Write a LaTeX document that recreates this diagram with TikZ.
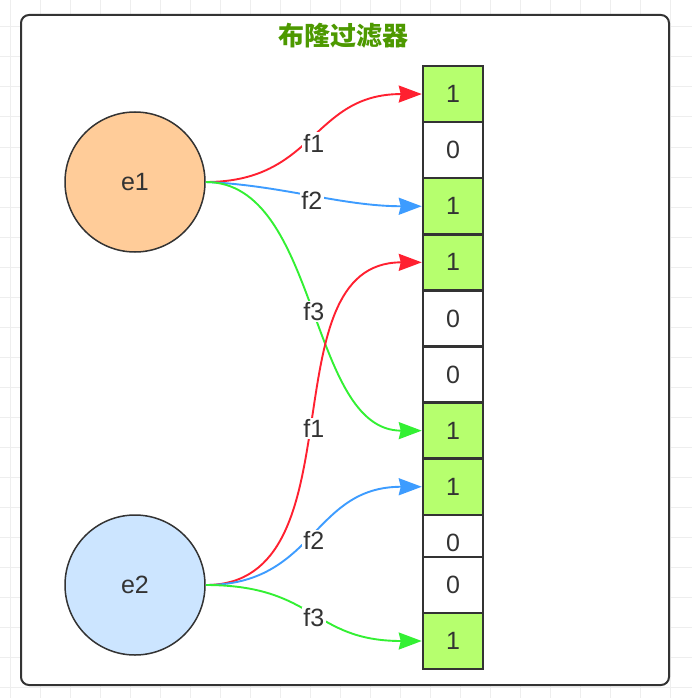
\documentclass[tikz,border=0pt]{standalone}
\usepackage{fontspec}
\setmainfont{Liberation Sans}
\newfontfamily\cjk{Noto Sans CJK SC}
\usetikzlibrary{arrows.meta}
\definecolor{ink}{HTML}{333333}
\definecolor{gridc}{HTML}{EEEEEE}
\definecolor{titlec}{HTML}{4D9900}
\definecolor{cellon}{HTML}{B6FF6E}
\definecolor{orangef}{HTML}{FFCC99}
\definecolor{bluef}{HTML}{CCE5FF}
\definecolor{ered}{HTML}{FF2030}
\definecolor{eblue}{HTML}{3D9CFF}
\definecolor{egreen}{HTML}{33F033}
\tikzset{
  gridline/.style={draw=gridc, line width=1pt},
  frame/.style={draw=ink, line width=2pt, fill=white, rounded corners=8pt},
  titletext/.style={text=titlec, font=\cjk\bfseries\fontsize{26pt}{30pt}\selectfont, inner sep=0pt},
  cellbase/.style={draw=ink, line width=2.5pt, minimum width=60pt, minimum height=56.1pt, inner sep=0pt, text=ink, font=\fontsize{25pt}{29pt}\selectfont},
  cellone/.style={cellbase, fill=cellon},
  cellzero/.style={cellbase, fill=white},
  elem/.style={circle, draw=ink, line width=1.5pt, minimum size=140pt, inner sep=0pt, text=ink, font=\fontsize{25pt}{29pt}\selectfont},
  conn/.style={line width=1.9pt, -{Stealth[length=23pt, width=17pt, inset=2pt]}},
  lbl/.style={fill=white, inner sep=1.5pt, text=ink, font=\fontsize{25pt}{29pt}\selectfont, pos=0.5, yshift=-5pt},
}
\begin{document}
\begin{tikzpicture}[x=1pt, y=-1pt]
\useasboundingbox (0,0) rectangle (692,698);
% background grid
\foreach \gx in {10,40,...,670} \draw[gridline] (\gx,0) -- (\gx,698);
\foreach \gy in {27,57,...,687} \draw[gridline] (0,\gy) -- (692,\gy);
% frame
\draw[frame] (21,15) rectangle (669,685);
\node[titletext] (title) at (343,36) {布隆过滤器};
% elements
\node[elem, fill=orangef] (e1) at (135,182) {\raisebox{-3pt}{e1}};
\node[elem, fill=bluef] (e2) at (135,585) {\raisebox{-3pt}{e2}};
% bit cells
\node[cellone]  (c1)  at (453,94.05)  {1};
\node[cellzero] (c2)  at (453,150.15) {0};
\node[cellone]  (c3)  at (453,206.25) {1};
\node[cellone]  (c4)  at (453,262.35) {1};
\node[cellzero] (c5)  at (453,318.45) {0};
\node[cellzero] (c6)  at (453,374.55) {0};
\node[cellone]  (c7)  at (453,430.65) {1};
\node[cellone]  (c8)  at (453,486.75) {1};
\node[cellzero] (c9)  at (453,542.85) {0};
\node[cellzero] (c10) at (453,585)    {0};
\node[cellone]  (c11) at (453,641)    {1};
% hash connectors from e1
\draw[conn, draw=ered] (e1.east) .. controls +(110,0) and +(-110,0) .. (c1.west) node[lbl] {f1};
\draw[conn, draw=eblue] (e1.east) .. controls +(75,3) and +(-80,0) .. (c3.west) node[lbl] {f2};
\draw[conn, draw=egreen] (e1.east) .. controls +(114,0) and +(-114,0) .. (c7.west) node[lbl] {f3};
% hash connectors from e2
\draw[conn, draw=ered] (e2.east) .. controls +(157,0) and +(-157,0) .. (c4.west) node[lbl] {f1};
\draw[conn, draw=eblue] (e2.east) .. controls +(110,0) and +(-110,0) .. (c8.west) node[lbl] {f2};
\draw[conn, draw=egreen] (e2.east) .. controls +(110,0) and +(-110,0) .. (c11.west) node[lbl] {f3};
\end{tikzpicture}
\end{document}
